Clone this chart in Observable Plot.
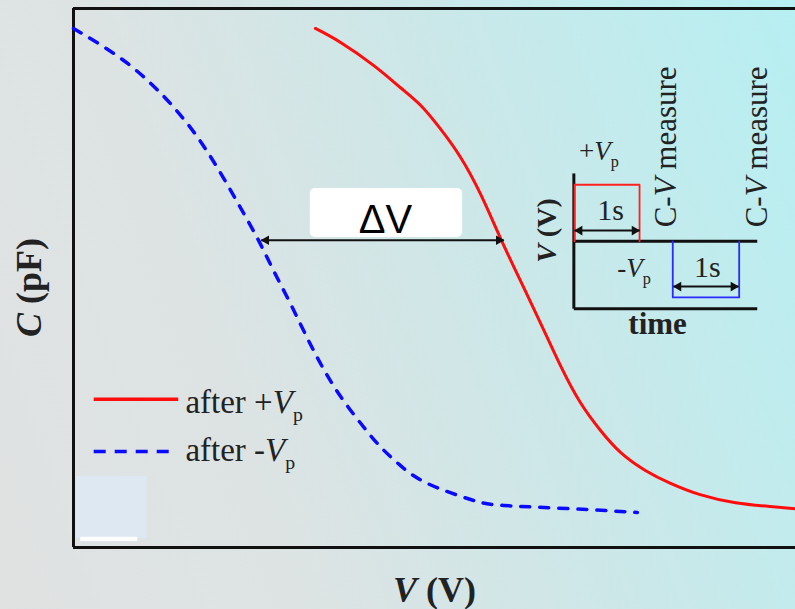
<!DOCTYPE html>
<html>
<head>
<meta charset="utf-8">
<script src="https://cdn.jsdelivr.net/npm/d3@7"></script>
<script src="https://cdn.jsdelivr.net/npm/@observablehq/plot@0.6"></script>
<style>
  html, body { margin: 0; padding: 0; }
  body {
    width: 795px; height: 609px; overflow: hidden;
    background: linear-gradient(70deg, #e0e2e2 0%, #dde3e3 30%, #cde7e8 60%, #b7eff2 100%);
  }
  #chart svg { display: block; }
</style>
</head>
<body>
<div id="chart"></div>
<script>
// ---- C–V curves (V in arbitrary units 0–10, C in arbitrary units 0–10) ----
const redV  = [3.35, 3.70, 4.16, 4.53, 4.81, 5.08, 5.36, 5.64, 5.91, 6.19, 6.47, 6.75, 7.02, 7.30, 7.58, 7.92, 8.27, 8.68, 9.17, 9.65, 10.0];
const redC  = [9.63, 9.37, 8.94, 8.53, 8.20, 7.77, 7.24, 6.55, 5.75, 4.95, 4.16, 3.36, 2.69, 2.17, 1.76, 1.43, 1.19, 0.98, 0.83, 0.76, 0.72];
const blueV = [0.00, 0.37, 0.75, 1.07, 1.34, 1.62, 1.86, 2.08, 2.31, 2.55, 2.77, 3.01, 3.24, 3.46, 3.70, 3.98, 4.25, 4.53, 4.90, 5.50, 5.96, 6.88, 7.81];
const blueC = [9.63, 9.33, 8.98, 8.61, 8.24, 7.79, 7.33, 6.85, 6.31, 5.73, 5.14, 4.51, 3.88, 3.32, 2.80, 2.30, 1.87, 1.52, 1.19, 0.89, 0.78, 0.72, 0.65];

// ---- legend ----
const legendLabels = ["after +*V*_p", "after -*V*_p"];
const legendLineX1 = [0.28, 0.28];
const legendLineX2 = [1.45, 1.34];
const legendLineY  = [2.75, 1.78];
const legendTextX  = [1.55, 1.55];
const legendTextY  = [2.50, 1.60];

// ---- ΔV annotation ----
const deltaLabel = "ΔV";
const deltaBox = {x1: 3.28, x2: 5.39, y1: 5.75, y2: 6.66};
const deltaLabelPos = {x: 4.32, y: 5.83};

// ---- double-headed arrows: ΔV and the two "1s" pulse widths ----
const arrowX1 = [2.60, 6.94, 8.31];
const arrowX2 = [5.96, 7.84, 9.21];
const arrowY  = [5.70, 5.88, 4.84];

// ---- inset pulse diagram ----
const insetAxisX1 = [6.93, 6.93, 6.93];
const insetAxisY1 = [6.94, 5.68, 4.43];
const insetAxisX2 = [6.93, 9.47, 9.47];
const insetAxisY2 = [4.43, 5.68, 4.43];
const posPulseV = [6.94, 6.94, 7.84, 7.84];
const posPulseT = [5.68, 6.73, 6.73, 5.68];
const negPulseV = [8.30, 8.30, 9.22, 9.22];
const negPulseT = [5.68, 4.64, 4.64, 5.68];

const insetLabels = ["+*V*_p", "-*V*_p", "1s", "1s", "time"];
const insetLabelX = [7.00, 7.53, 7.44, 8.78, 8.09];
const insetLabelY = [7.18, 5.01, 6.07, 5.01, 3.97];
const measureLabels = ["C-*V* measure", "C-*V* measure"];
const measureX = [8.35, 9.61];
const measureY = [5.94, 5.94];
const insetAxisLabel = "*V* (V)";
const insetAxisLabelPos = {x: 6.68, y: 5.88};

// ---- axis titles ----
const xTitle = "*V* (V)";
const yTitle = "*C* (pF)";

// ---- leftover patches in the picture ----
const patchX1 = [0.04, 0.10], patchX2 = [1.02, 0.89];
const patchY1 = [0.17, 0.11], patchY2 = [1.32, 0.19];

const redData  = redV.map((v, i) => ({v, c: redC[i]}));
const blueData = blueV.map((v, i) => ({v, c: blueC[i]}));
const arrows = arrowX1.map((x1, i) => ({x1, x2: arrowX2[i], y: arrowY[i]}));
const heads = arrows.flatMap(a => [{x: a.x1, y: a.y, side: "l"}, {x: a.x2, y: a.y, side: "r"}]);
const serif = "Liberation Serif, Times New Roman, serif";

const plot = Plot.plot({
  width: 795, height: 609,
  marginLeft: 73, marginRight: 0, marginTop: 8, marginBottom: 62,
  style: {background: "transparent", overflow: "visible"},
  x: {domain: [0, 10], axis: null},
  y: {domain: [0, 10], axis: null},
  marks: [
    Plot.rect(patchX1.map((x1, i) => ({x1, x2: patchX2[i], y1: patchY1[i], y2: patchY2[i]})),
      {x1: "x1", x2: "x2", y1: "y1", y2: "y2", fill: (d, i) => i === 0 ? "#dde8f3" : "#ffffff"}),
    Plot.rect([deltaBox], {x1: "x1", x2: "x2", y1: "y1", y2: "y2", fill: "white", rx: 5}),
    // frame (left, top, bottom)
    Plot.ruleX([0], {stroke: "#111", strokeWidth: 3}),
    Plot.ruleY([0, 10], {stroke: "#111", strokeWidth: 3}),
    // curves
    Plot.line(blueData, {x: "v", y: "c", stroke: "#0a0aff", strokeWidth: 3.5, strokeDasharray: "9,10", curve: "natural"}),
    Plot.line(redData, {x: "v", y: "c", stroke: "#ff0d0d", strokeWidth: 3, curve: "natural"}),
    // legend
    Plot.link([0], {x1: legendLineX1[0], x2: legendLineX2[0], y1: legendLineY[0], y2: legendLineY[0], stroke: "#ff0d0d", strokeWidth: 3.5}),
    Plot.link([0], {x1: legendLineX1[1], x2: legendLineX2[1], y1: legendLineY[1], y2: legendLineY[1], stroke: "#0a0aff", strokeWidth: 3.5, strokeDasharray: "12,9"}),
    Plot.text(legendLabels, {x: (d, i) => legendTextX[i], y: (d, i) => legendTextY[i], text: d => d,
      textAnchor: "start", lineAnchor: "bottom", fontFamily: serif, fontSize: 33, fill: "#222"}),
    // inset axes and pulses
    Plot.link(insetAxisX1.map((x1, i) => ({x1, y1: insetAxisY1[i], x2: insetAxisX2[i], y2: insetAxisY2[i]})),
      {x1: "x1", y1: "y1", x2: "x2", y2: "y2", stroke: "#111", strokeWidth: 3}),
    Plot.line(posPulseV.map((v, i) => ({v, t: posPulseT[i]})), {x: "v", y: "t", stroke: "#ff2020", strokeWidth: 1.8}),
    Plot.line(negPulseV.map((v, i) => ({v, t: negPulseT[i]})), {x: "v", y: "t", stroke: "#2a2aff", strokeWidth: 1.8}),
    // double-headed arrows
    Plot.link(arrows, {x1: "x1", x2: "x2", y1: "y", y2: "y", stroke: "#111", strokeWidth: 2}),
    Plot.dot(heads.filter(h => h.side === "l"), {x: "x", y: "y", symbol: "triangle", r: 3.6, fill: "#111", stroke: "none", rotate: -90, dx: 5}),
    Plot.dot(heads.filter(h => h.side === "r"), {x: "x", y: "y", symbol: "triangle", r: 3.6, fill: "#111", stroke: "none", rotate: 90, dx: -5}),
    // ΔV label
    Plot.text([deltaLabel], {x: deltaLabelPos.x, y: deltaLabelPos.y, text: d => d, textAnchor: "middle", lineAnchor: "bottom",
      fontFamily: "Liberation Sans, Arial, sans-serif", fontSize: 40, fill: "#000"}),
    // inset labels
    Plot.text(insetLabels.slice(0, 2), {x: (d, i) => insetLabelX[i], y: (d, i) => insetLabelY[i], text: d => d,
      textAnchor: "start", lineAnchor: "bottom", fontFamily: serif, fontSize: 27, fill: "#222"}),
    Plot.text(insetLabels.slice(2, 4), {x: (d, i) => insetLabelX[i + 2], y: (d, i) => insetLabelY[i + 2], text: d => d,
      textAnchor: "middle", lineAnchor: "bottom", fontFamily: serif, fontSize: 30, fill: "#222"}),
    Plot.text(insetLabels.slice(4), {x: insetLabelX[4], y: insetLabelY[4], text: d => d,
      textAnchor: "middle", lineAnchor: "bottom", fontFamily: serif, fontSize: 31, fontWeight: "bold", fill: "#222"}),
    Plot.text(measureLabels, {x: (d, i) => measureX[i], y: (d, i) => measureY[i], text: d => d, rotate: -90,
      textAnchor: "start", lineAnchor: "bottom", fontFamily: serif, fontSize: 31, fill: "#222"}),
    Plot.text([insetAxisLabel], {x: insetAxisLabelPos.x, y: insetAxisLabelPos.y, text: d => d, rotate: -90,
      textAnchor: "middle", lineAnchor: "bottom", fontFamily: serif, fontSize: 28, fontWeight: "bold", fill: "#222"}),
    // axis titles
    Plot.text([xTitle], {frameAnchor: "bottom", text: d => d, textAnchor: "middle", lineAnchor: "bottom", dy: 54,
      fontFamily: serif, fontSize: 36, fontWeight: "bold", fill: "#222"}),
    Plot.text([yTitle], {frameAnchor: "left", text: d => d, rotate: -90, textAnchor: "middle", lineAnchor: "bottom", dx: -33, dy: 9.5,
      fontFamily: serif, fontSize: 36, fontWeight: "bold", fill: "#222"})
  ]
});

// Turn *x* into italic and _x into subscript spans
function richify(svg) {
  svg.querySelectorAll("text").forEach(t => {
    const s = t.textContent;
    if (!/[*_]/.test(s)) return;
    while (t.firstChild) t.removeChild(t.firstChild);
    const re = /\*([^*]+)\*|_(\w+)|([^*_]+)/g;
    let m;
    while ((m = re.exec(s))) {
      const ts = document.createElementNS("http://www.w3.org/2000/svg", "tspan");
      if (m[1] !== undefined) { ts.textContent = m[1]; ts.setAttribute("font-style", "italic"); }
      else if (m[2] !== undefined) { ts.textContent = m[2]; ts.setAttribute("font-size", "0.6em"); ts.setAttribute("dy", "0.4em"); ts.setAttribute("font-style", "normal"); }
      else { ts.textContent = m[3]; }
      t.appendChild(ts);
    }
  });
}
richify(plot);
document.getElementById("chart").appendChild(plot);
</script>
</body>
</html>
